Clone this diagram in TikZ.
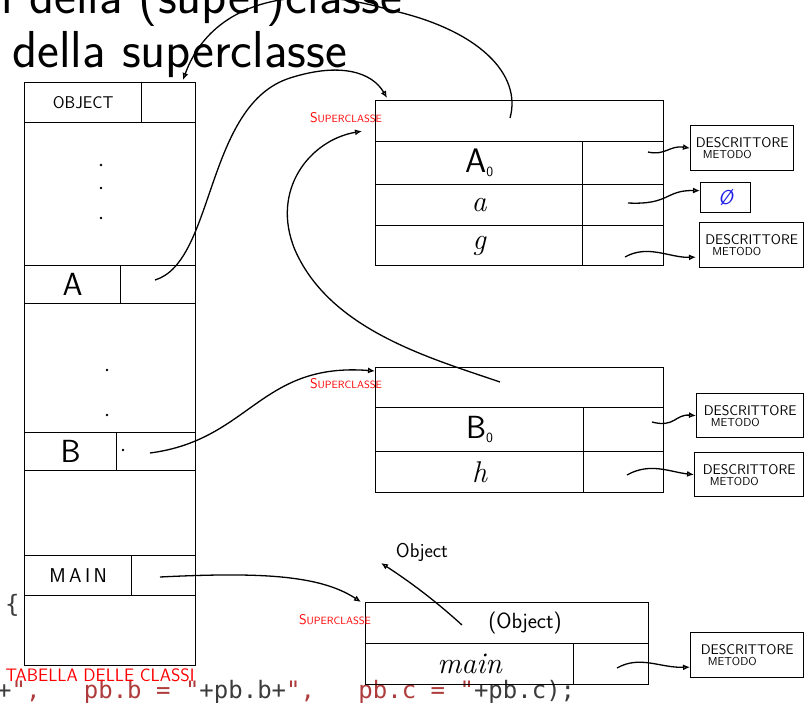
\documentclass[tikz,border=0pt]{standalone}
\usepackage{fontspec}
\setmonofont{DejaVu Sans Mono}
\usetikzlibrary{arrows.meta,calc}
\definecolor{codegray}{RGB}{60,60,60}
\definecolor{codered}{RGB}{175,60,60}
\definecolor{inkred}{RGB}{255,0,0}
\definecolor{inkblue}{RGB}{30,30,230}
\newcommand\myfs[1]{\fontsize{#1}{#1}\selectfont}
\newcommand\supcl{S{\myfs{10.5}UPERCLASSE}}
\newcommand\descrtxt{\myfs{14}DESCRITTORE\\[-1pt]\hspace*{7pt}\myfs{11.5}METODO}
\begin{document}
\begin{tikzpicture}[x=1pt,y=-1pt,
  ink/.style={line width=1.3pt, draw=black},
  cell/.style={ink, anchor=north west, inner sep=0pt, font=\sffamily},
  desc/.style={ink, anchor=north west, inner sep=0pt, align=left, font=\sffamily},
  arr/.style={ink, -{Latex[open,length=7pt,width=6pt]}},
  redlab/.style={text=inkred, font=\sffamily\myfs{14}, inner sep=0pt},
  slide/.style={font=\sffamily\myfs{52}, inner sep=0pt},
  code/.style={font=\ttfamily\myfs{24}, inner sep=0pt, anchor=base west, text=codegray}]
\useasboundingbox (0,0) rectangle (804,710);
\begin{scope}
\clip (0,0) rectangle (804,710);
% slide background text
\node[slide, anchor=base east] (t1) at (402,13) {l della (super)classe};
\node[slide, anchor=base west] (t2) at (12,67) {della superclasse};
\node[code] (c1) at (-9.5,612) {)\{};
\node[code] (c2) at (-3,698) {+\textcolor{codered}{",\ \ \ pb.b = "}+pb.b+\textcolor{codered}{",\ \ \ pb.c = "}+pb.c);};

% class table
\node[cell, minimum width=171pt, minimum height=583pt] (ctab) at (24,82) {};
\node[cell, minimum width=117pt, minimum height=40pt] (objn) at (24,82) {\myfs{17}OBJECT};
\node[cell, minimum width=54pt, minimum height=40pt] (objp) at (141,82) {};
\node[cell, minimum width=96pt, minimum height=38pt] (an) at (24,265) {\myfs{32}A};
\node[cell, minimum width=75pt, minimum height=38pt] (ap) at (120,265) {};
\node[cell, minimum width=92pt, minimum height=38pt] (bn) at (24,432) {\myfs{32}B};
\node[cell, minimum width=79pt, minimum height=38pt] (bp) at (116,432) {};
\node[cell, minimum width=107pt, minimum height=40pt] (mn) at (24,555) {\myfs{20}M\,A\,I\,N};
\node[cell, minimum width=64pt, minimum height=40pt] (mp) at (131,555) {};
\foreach \p in {(101,165),(101,188),(101,218),(107,370),(107,415),(123,450)}
  \fill \p circle (1.4pt);
\node[redlab, font=\sffamily\myfs{18}] (tab) at (100,675) {TABELLA DELLE CLASSI};

% table A
\node[cell, minimum width=288pt, minimum height=41pt] (asup) at (375,100) {};
\node[cell, minimum width=207pt, minimum height=43pt] (a0n) at (375,141) {\myfs{34}A\raisebox{-4pt}{\myfs{14}0}};
\node[cell, minimum width=81pt, minimum height=43pt] (a0p) at (582,141) {};
\node[cell, minimum width=207pt, minimum height=41pt] (fan) at (375,184) {\rmfamily\itshape\myfs{30}a};
\node[cell, minimum width=81pt, minimum height=41pt] (fap) at (582,184) {};
\node[cell, minimum width=207pt, minimum height=40pt] (fgn) at (375,225) {\rmfamily\itshape\myfs{30}g};
\node[cell, minimum width=81pt, minimum height=40pt] (fgp) at (582,225) {};
\node[redlab] (sc1) at (346,118) {\supcl};

% table B
\node[cell, minimum width=288pt, minimum height=40pt] (bsup) at (375,367) {};
\node[cell, minimum width=208pt, minimum height=44pt] (b0n) at (375,407) {\myfs{32}B\raisebox{-4pt}{\myfs{14}0}};
\node[cell, minimum width=80pt, minimum height=44pt] (b0p) at (583,407) {};
\node[cell, minimum width=208pt, minimum height=41pt] (fhn) at (375,451) {\rmfamily\itshape\myfs{30}h};
\node[cell, minimum width=80pt, minimum height=41pt] (fhp) at (583,451) {};
\node[redlab] (sc2) at (346,384) {\supcl};

% table MAIN
\node[cell, minimum width=283pt, minimum height=41pt] (msup) at (365,602) {};
\node[inner sep=0pt, font=\sffamily\myfs{22}] (objtxt) at (525,623) {(Object)};
\node[cell, minimum width=208pt, minimum height=41pt] (mainn) at (365,643) {\rmfamily\itshape\myfs{30}main};
\node[cell, minimum width=75pt, minimum height=41pt] (mainp) at (573,643) {};
\node[redlab] (sc3) at (335,620) {\supcl};
\node[inner sep=0pt, font=\sffamily\myfs{20}] (objlab) at (422,552) {Object};

% descriptors
\node[desc, minimum width=103pt, minimum height=45pt] (d1) at (690,125) {\descrtxt};
\node[desc, minimum width=50pt, minimum height=30pt, align=center] (dnull) at (700,182) {\textcolor{inkblue}{\itshape\myfs{20}Ø}};
\node[desc, minimum width=104pt, minimum height=45pt] (d2) at (699,222) {\descrtxt};
\node[desc, minimum width=107pt, minimum height=44pt] (d3) at (696,393) {\descrtxt};
\node[desc, minimum width=109pt, minimum height=44pt] (d4) at (694,452) {\descrtxt};
\node[desc, minimum width=113pt, minimum height=45pt] (d5) at (690,632) {\descrtxt};

% coordinates
\coordinate (pA) at (155,280);
\coordinate (pB) at (150,453);
\coordinate (pM) at (160,577);
\coordinate (pAsup) at (510,118);
\coordinate (pBsup) at (500,382);
\coordinate (pObj) at (462,625);
\coordinate (objArr) at (381,563);
\coordinate (sA0) at (648,152);
\coordinate (sa) at (628,203);
\coordinate (sg) at (625,257);
\coordinate (sB0) at (652,422);
\coordinate (sh) at (627,475);
\coordinate (sm) at (617,668);

% connectors
\draw[arr] (pA) .. controls (215,262) and (205,105) .. (290,78) .. controls (340,62) and (372,72) .. ($(asup.north west)+(12,-2)$);
\draw[arr] (pAsup) .. controls (522,75) and (480,30) .. (390,10) .. controls (290,-20) and (210,5) .. ($(objp.north west)+(42,-2)$);
\draw[arr] (pBsup) .. controls (430,358) and (330,330) .. (295,250) .. controls (270,190) and (310,140) .. ($(asup.west)+(-13,10)$);
\draw[arr] (pB) .. controls (250,440) and (260,362) .. ($(bsup.north west)+(0,4)$);
\draw[arr] (pM) .. controls (260,572) and (320,575) .. ($(msup.north west)+(-4,0)$);
\draw[arr] (pObj) .. controls (440,605) and (415,585) .. (objArr);
\draw[arr] (sA0) .. controls (665,156) and (670,145) .. (d1.west);
\draw[arr] (sa) .. controls (670,205) and (665,190) .. ($(dnull.west)+(0,-7)$);
\draw[arr] (sg) .. controls (648,244) and (670,258) .. ($(d2.west)+(-3,12)$);
\draw[arr] (sB0) .. controls (675,428) and (675,414) .. (d3.west);
\draw[arr] (sh) .. controls (650,462) and (670,472) .. (d4.west);
\draw[arr] (sm) .. controls (640,655) and (660,668) .. ($(d5.west)+(0,12)$);
\end{scope}
\end{tikzpicture}
\end{document}
